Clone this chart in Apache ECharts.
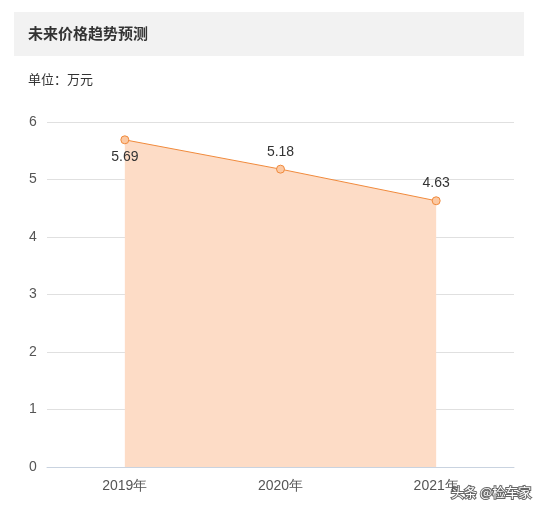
<!DOCTYPE html>
<html><head><meta charset="utf-8">
<script src="https://cdn.jsdelivr.net/npm/echarts@6/dist/echarts.min.js"></script>
<style>body{margin:0;background:#fff}#c{width:547px;height:514px}</style>
</head><body><div id="c"></div>
<script>
var years = ['2019年', '2020年', '2021年'];
var prices = [5.69, 5.18, 4.63];
var yTicks = [0, 1, 2, 3, 4, 5, 6];

var chart = echarts.init(document.getElementById('c'));
chart.setOption({
    animation: false,
    graphic: [
        {type: 'rect', shape: {x: 14, y: 12, width: 510, height: 44}, style: {fill: '#f2f2f2'}},
        {type: 'text', left: 28, top: 26, style: {text: '未来价格趋势预测', font: 'bold 15px "Noto Sans CJK SC"', fill: '#333'}},
        {type: 'text', left: 28, top: 73, style: {text: '单位：万元', font: '13px "Noto Sans CJK SC"', fill: '#333'}},
        {type: 'text', left: 450, top: 485, style: {text: '头条 @检车家', font: '13px "Noto Sans CJK SC"', fill: '#fff', stroke: '#666', lineWidth: 2}}
    ],
    grid: {left: 47, right: 33, top: 122, bottom: 47},
    xAxis: {
        type: 'category', data: years, boundaryGap: true,
        axisLine: {lineStyle: {color: '#c9d3e0'}},
        axisTick: {lineStyle: {color: '#c9d3e0'}},
        axisLabel: {color: '#555', fontSize: 14, margin: 12}
    },
    yAxis: {
        type: 'value', min: yTicks[0], max: yTicks[yTicks.length - 1], interval: 1,
        axisLine: {show: false}, axisTick: {show: false},
        axisLabel: {color: '#555', fontSize: 14, margin: 14, align: 'center'},
        splitLine: {lineStyle: {color: '#e0e0e0'}}
    },
    series: [{
        type: 'line', data: prices.map(function (v, i) {
            return {value: v, label: {position: i === 0 ? 'bottom' : 'top'}};
        }),
        symbol: 'circle', symbolSize: 8,
        itemStyle: {color: '#fcc9a3', borderColor: '#f08a3c', borderWidth: 1},
        lineStyle: {color: '#f08a3c', width: 1},
        areaStyle: {color: '#fddcc6', opacity: 1},
        label: {show: true, color: '#333', fontSize: 14, distance: 6}
    }]
});
</script></body></html>
